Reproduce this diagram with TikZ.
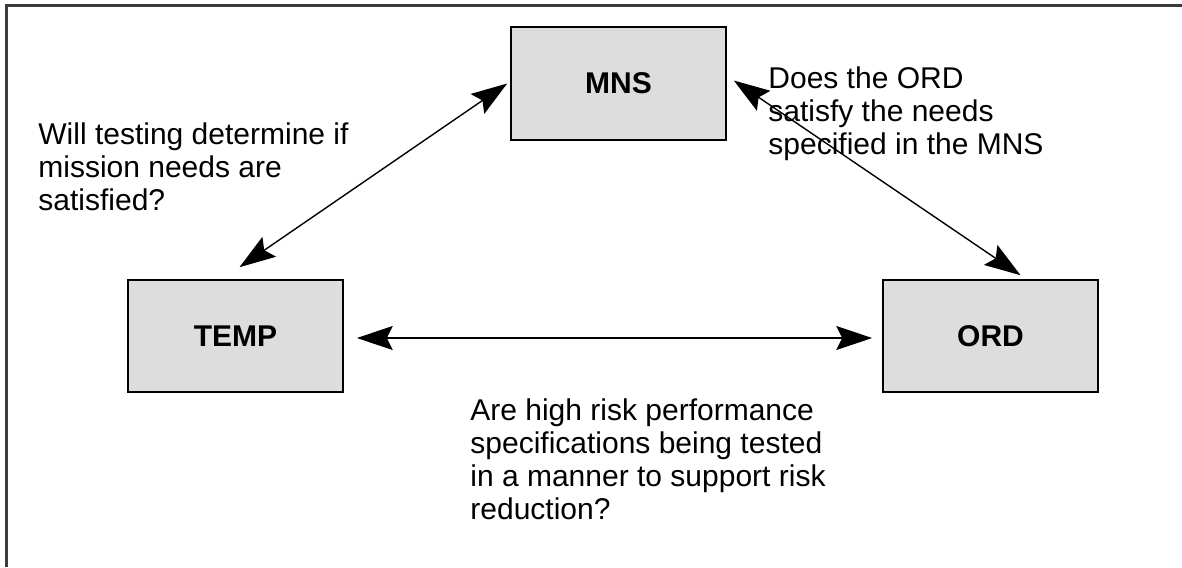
\documentclass[tikz,border=0pt]{standalone}
\usepackage{fontspec}
\setmainfont{Liberation Sans}
\usetikzlibrary{arrows.meta}
\definecolor{boxgray}{HTML}{DDDDDD}
\definecolor{framegray}{HTML}{3C3C3C}
\tikzset{
  docbox/.style={draw=black, line width=0.8pt, fill=boxgray, minimum width=107.5pt, minimum height=56.5pt, inner sep=0pt, font=\fontsize{15pt}{16.5pt}\selectfont\bfseries},
  biarrow/.style={line width=0.7pt, {Stealth[length=18pt,width=12pt,inset=3pt]}-{Stealth[length=18pt,width=12pt,inset=3pt]}},
  note/.style={align=left, inner sep=0pt, anchor=north west, font=\fontsize{15pt}{16.5pt}\selectfont}
}
\begin{document}
\begin{tikzpicture}[x=0.5pt,y=-0.5pt]
\useasboundingbox (0,0) rectangle (1182,567);
\draw[framegray, line width=1.5pt] (6.5,567) -- (6.5,6) -- (1182,6);
\node[docbox] (mns) at (618.5,83.5) {MNS};
\node[docbox, minimum height=56pt] (temp) at (235.5,336) {TEMP};
\node[docbox, minimum height=56pt] (ord) at (990.5,336) {ORD};
\draw[biarrow] ([shift={(4,-12)}]temp.north) -- ([shift={(-3,0)}]mns.west);
\draw[biarrow] ([shift={(7,-3)}]mns.east) -- ([shift={(30,-4)}]ord.north);
\draw[biarrow] ([shift={(13,2)}]temp.east) -- ([shift={(-10,2)}]ord.west);
\node[note] (t1) at (38,122) {Will testing determine if\\mission needs are\\satisfied?};
\node[note] (t2) at (768,66) {Does the ORD\\satisfy the needs\\specified in the MNS};
\node[note] (t3) at (470,398) {Are high risk performance\\specifications being tested\\in a manner to support risk\\reduction?};
\end{tikzpicture}
\end{document}
